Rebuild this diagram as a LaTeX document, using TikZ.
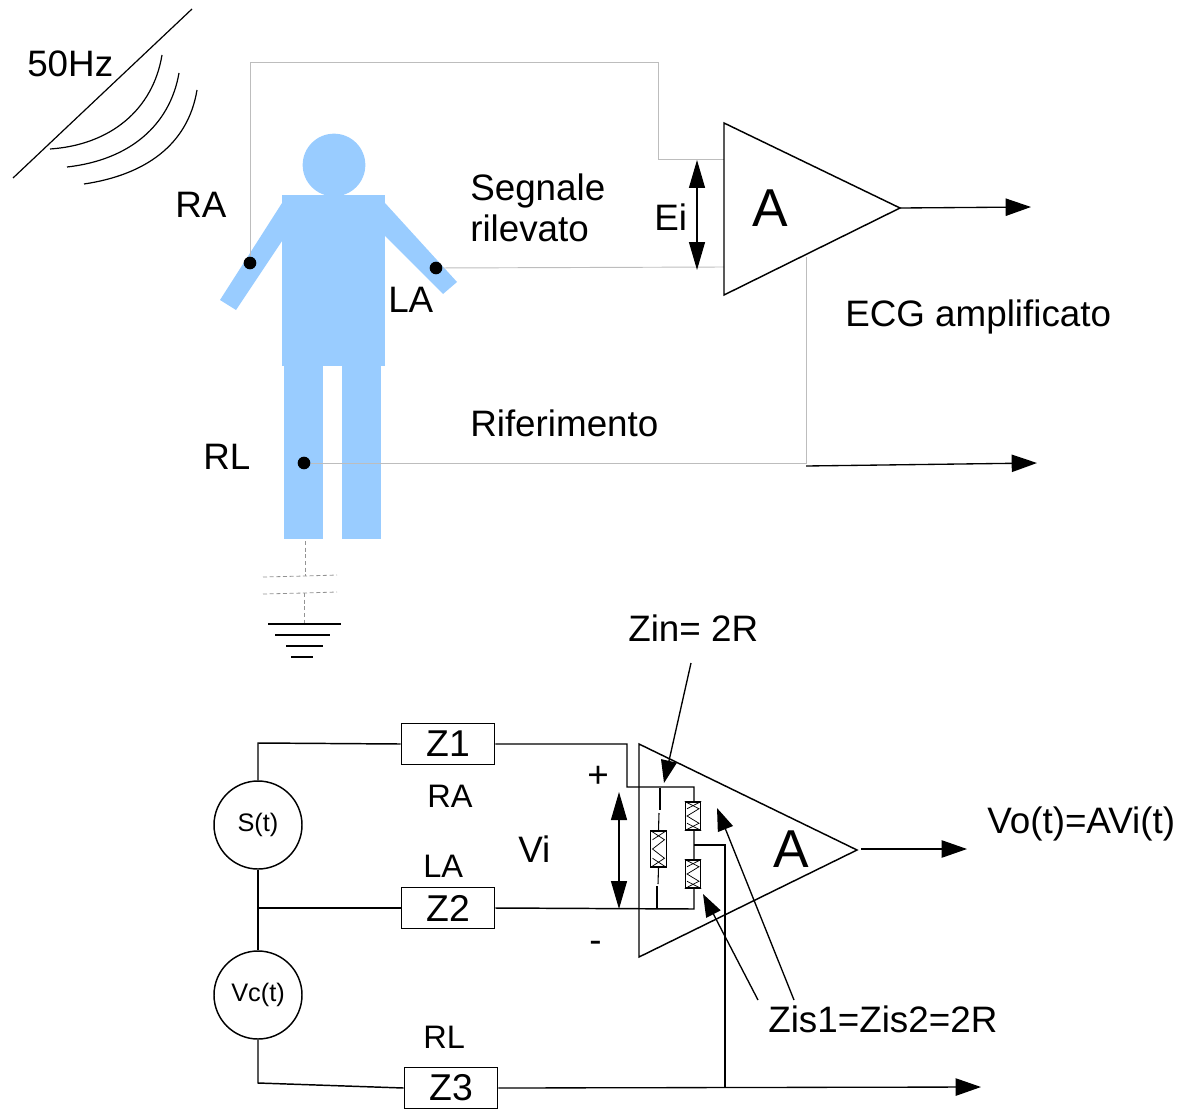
\documentclass[tikz,border=0pt]{standalone}
\usepackage{fontspec}
\setmainfont{Liberation Sans}
\usetikzlibrary{arrows.meta,calc}
\definecolor{body}{HTML}{99CCFF}
\definecolor{wire}{HTML}{BDBDBD}
\tikzset{
  px/.style={x=0.75pt,y=-0.75pt},
  lbl/.style={inner sep=0pt,anchor=base west,font=\fontsize{27.6}{27.6}\selectfont,text=black},
  lblm/.style={inner sep=0pt,anchor=base west,font=\fontsize{27.6}{27.6}\selectfont,text=black},
  lbls/.style={inner sep=0pt,anchor=base west,font=\fontsize{24.4}{24.4}\selectfont,text=black},
  lblA/.style={inner sep=0pt,anchor=base west,font=\fontsize{40}{40}\selectfont,text=black},
  bigarrow/.style={-{Triangle[length=19pt,width=13pt]},line width=1pt},
  bothbig/.style={{Triangle[length=21pt,width=12pt]}-{Triangle[length=21pt,width=12pt]},line width=1pt},
  smarrow/.style={-{Triangle[length=17pt,width=12pt]},line width=1pt},
  wiregray/.style={draw=wire,line width=0.7pt},
  blk/.style={draw=black,line width=1.1pt},
  zbox/.style={draw=black,line width=1.1pt,fill=white,minimum width=70pt,minimum height=31pt,inner sep=0pt,font=\fontsize{28}{28}\selectfont},
  src/.style={circle,draw=black,line width=1.1pt,fill=white,minimum size=66pt,inner sep=0pt,font=\fontsize{19}{19}\selectfont},
  dot/.style={circle,fill=black,minimum size=9.5pt,inner sep=0pt},
  dashline/.style={draw=gray!85,line width=0.6pt,dash pattern=on 3pt off 2pt},
}
\newcommand{\resbox}[3]{% name, centre x, centre y
  \node[draw=black,line width=0.8pt,fill=white,minimum width=11.5pt,minimum height=#3,inner sep=0pt] (#1) at (#2) {};
}
\begin{document}
\begin{tikzpicture}[px]
\useasboundingbox (0,0) rectangle (1180,1109);
% antenna
\coordinate (antA) at (13,178); \coordinate (antB) at (192,9);
\draw[line width=0.9pt] (antA) -- (antB);
\draw[line width=0.9pt] (50,149) .. controls (110,145) and (153,110) .. (162,55);
\draw[line width=0.9pt] (67,167) .. controls (130,160) and (170,125) .. (179,73);
\draw[line width=0.9pt] (84,184) .. controls (145,175) and (188,145) .. (197,90);
\node[lbl] (hz) at (27,77) {50Hz};
% person
\fill[body] (334,165) circle[radius=23.5pt];
\fill[body] (282,195) rectangle (385,366);
\fill[body] (284,366) rectangle (323,539);
\fill[body] (342,366) rectangle (381,539);
\fill[body] (282,203) -- (220,300) -- (236,310) -- (282,241) -- cycle;
\fill[body] (385,203) -- (457,282) -- (443,294) -- (385,236) -- cycle;
\node[dot] (ra) at (250,263) {};
\node[dot] (la) at (436,268) {};
\node[dot] (rl) at (304,463) {};
% top amp
\coordinate (t1) at (724,123); \coordinate (t2) at (900,208); \coordinate (t3) at (724,295);
\coordinate (inA) at (724,159); \coordinate (inB) at (724,267);
\coordinate (gndT) at (806,257); \coordinate (gndB) at (806,463);
\draw[wiregray] (ra) -- (250,62) -- (658,62) -- (658,159) -- (inA);
\draw[wiregray] (la) -- (inB);
\draw[wiregray] (rl) -- (gndB) -- (gndT);
\draw[blk] (t1) -- (t2) -- (t3) -- cycle;
\node[lblA] (amp) at (752,227) {A};
\coordinate (outE) at (1031,207);
\draw[bigarrow] (t2) -- (outE);
\coordinate (refE) at (1037,463); \coordinate (refS) at (806,466);
\draw[bigarrow] (refS) -- (refE);
\coordinate (eiT) at (697,160); \coordinate (eiB) at (697,270);
\draw[bothbig] (eiT) -- (eiB);
\node[lblm] at (654,231) {Ei};
\node[lblm] at (175,218) {RA};
\node[lblm] at (388,312) {LA};
\node[lblm] at (203,469) {RL};
\node[lblm] at (470,200) {Segnale};
\node[lblm] at (470,242) {rilevato};
\node[lblm] at (845,326) {ECG amplificato};
\node[lblm] at (470,436) {Riferimento};
% ground
\coordinate (g0) at (305,541); \coordinate (g1) at (305,576);
\coordinate (g2) at (304,593); \coordinate (g3) at (304,623);
\draw[dashline] (g0) -- (g1);
\draw[dashline] (263,577) -- (g1) -- (337,575);
\draw[dashline] (263,594) -- (g2) -- (337,592);
\draw[dashline] (g2) -- (g3);
\draw[line width=0.9pt] (268,624) -- (341,624);
\draw[line width=0.9pt] (275,635) -- (330,635);
\draw[line width=0.9pt] (286,646) -- (323,646);
\draw[line width=1pt] (291,657) -- (313,657);
% bottom circuit
\node[zbox] (z1) at (448,744) {Z1};
\node[zbox] (z2) at (448,908) {Z2};
\node[zbox] (z3) at (451,1088) {Z3};
\node[src] (s) at (258,825) {S(t)};
\node[src] (vc) at (258,995) {Vc(t)};
\coordinate (wt) at (258,743);
\coordinate (jn) at (258,908);
\coordinate (wb) at (258,1083);
\draw[blk] (s) -- (wt) -- (z1.west);
\draw[blk] (s) -- (vc);
\draw[blk] (jn) -- (z2.west);
\draw[blk] (vc) -- (wb) -- (z3.west);
% amp
\coordinate (b1) at (639,744); \coordinate (b2) at (857,850); \coordinate (b3) at (639,957);
\draw[blk] (b1) -- (b2) -- (b3) -- cycle;
\node[lblA] at (773,867) {A};
\draw[blk] (z1.east) -- (627,744) -- (627,787) -- (694,787) -- (694,909) -- (z2.east);
\resbox{r1}{693,816}{21pt}
\resbox{r2}{693,874}{21pt}
\resbox{r3}{658.5,849}{27pt}
\draw[line width=0.8pt] (660,788) -- (660,810);
\draw[line width=0.8pt] (659,813) -- (r3.north);
\draw[line width=0.8pt] (r3.south) -- (658,884);
\draw[line width=0.8pt] (657,886) -- (657,908);
\foreach \n in {r1,r2,r3}{
  \draw[line width=0.55pt] (\n.north west) -- ($(\n.north)!0.25!(\n.south)+(6,0)$) -- ($(\n.north)!0.5!(\n.south)+(-6,0)$) -- ($(\n.north)!0.75!(\n.south)+(6,0)$) -- (\n.south west);
  \draw[line width=0.55pt] (\n.north east) -- ($(\n.north)!0.25!(\n.south)+(-6,0)$);
  \draw[line width=0.55pt] ($(\n.north)!0.75!(\n.south)+(-6,0)$) -- (\n.south east);
}
\coordinate (mid) at (694,845); \coordinate (dn) at (725,845); \coordinate (dn2) at (725,1087);
\draw[blk] (mid) -- (dn) -- (dn2);
\coordinate (outB) at (967,849); \coordinate (outBs) at (861,849);
\draw[bigarrow] (outBs) -- (outB);
\coordinate (refBe) at (981,1087);
\draw[bigarrow] (z3.east) -- (refBe);
\coordinate (viT) at (619,792); \coordinate (viB) at (619,909);
\draw[bothbig] (viT) -- (viB);
\coordinate (zinS) at (691,663); \coordinate (zinE) at (664,783);
\draw[smarrow] (zinS) -- (zinE);
\coordinate (zs1) at (794,1000); \coordinate (zs1E) at (717,808);
\draw[smarrow] (zs1) -- (zs1E);
\coordinate (zs2) at (758,1000); \coordinate (zs2E) at (703,894);
\draw[smarrow] (zs2) -- (zs2E);
\node[lblm] at (628,641) {Zin= 2R};
\node[lblm] at (587,787) {+};
\node[lblm] at (589,952) {-};
\node[lbls] at (427,807) {RA};
\node[lbls] at (423,877) {LA};
\node[lbls] at (423,1048) {RL};
\node[lblm] at (518,862) {Vi};
\node[lblm] at (987,833) {Vo(t)=AVi(t)};
\node[lblm] at (768,1032) {Zis1=Zis2=2R};
\end{tikzpicture}
\end{document}
